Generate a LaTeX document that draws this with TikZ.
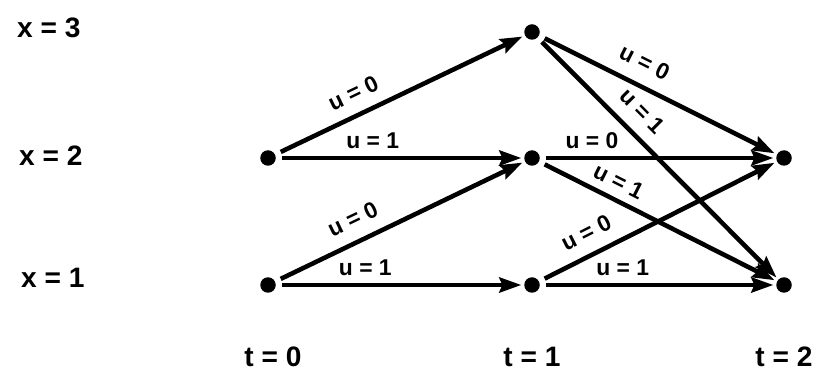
\documentclass[tikz,border=0pt]{standalone}
\usepackage{fontspec}
\setmainfont{Liberation Sans}
\usepackage{tikz}
\usetikzlibrary{positioning,arrows.meta}

\begin{document}
\begin{tikzpicture}[on grid,
    state/.style={circle, fill, inner sep=0pt, minimum size=3.1mm},
    move/.style={line width=2.6pt, -{Stealth[length=4.4mm,width=3mm,inset=0.6mm]}, shorten <=1.2mm, shorten >=0.5mm},
    ulab/.style={sloped, inner sep=1pt, font=\fontsize{13}{15}\selectfont\bfseries},
    axlab/.style={font=\fontsize{16}{19}\selectfont\bfseries}]

    \useasboundingbox (0,0) rectangle (16.4,7.62);

    % t = 0
    \node [state] (a2) at (5.36,4.46) {};
    \node [state, below=2.54cm of a2] (a1) {};

    % t = 1
    \node [state, right=5.28cm of a2] (b2) {};
    \node [state, above=2.52cm of b2] (b3) {};
    \node [state, below=2.54cm of b2] (b1) {};

    % t = 2
    \node [state, right=5.04cm of b2] (c2) {};
    \node [state, below=2.54cm of c2] (c1) {};

    % x
    \node [axlab, anchor=west] (x3) at (0.22,7.06) {x = 3};
    \node [axlab, anchor=west] (x2) at (0.26,4.50) {x = 2};
    \node [axlab, anchor=west] (x1) at (0.30,2.06) {x = 1};

    % t
    \node [axlab, below=1.44cm of a1, xshift=1mm] (t0) {t = 0};
    \node [axlab, below=1.44cm of b1] (t1) {t = 1};
    \node [axlab, below=1.44cm of c1] (t2) {t = 2};

    \draw [move] (a2) -- node [ulab, pos=0.35, above=5.5pt] {u = 0} (b3);
    \draw [move] (a2) -- node [ulab, pos=0.39, above=3pt] {u = 1} (b2);
    \draw [move] (a1) -- node [ulab, pos=0.35, above=6pt] {u = 0} (b2);
    \draw [move] (a1) -- node [ulab, pos=0.36, above=3pt] {u = 1} (b1);

    \draw [move] (b3) -- node [ulab, pos=0.40, above=6.5pt] {u = 0} (c2);
    \draw [move] (b3) -- node [ulab, pos=0.37, above=6pt] {u = 1} (c1);
    \draw [move] (b2) -- node [ulab, pos=0.22, above=3pt] {u = 0} (c2);
    \draw [move] (b2) -- node [ulab, pos=0.30, above=3.5pt] {u = 1} (c1);
    \draw [move] (b1) -- node [ulab, pos=0.24, above=6pt] {u = 0} (c2);
    \draw [move] (b1) -- node [ulab, pos=0.35, above=3pt] {u = 1} (c1);

\end{tikzpicture}
\end{document}
